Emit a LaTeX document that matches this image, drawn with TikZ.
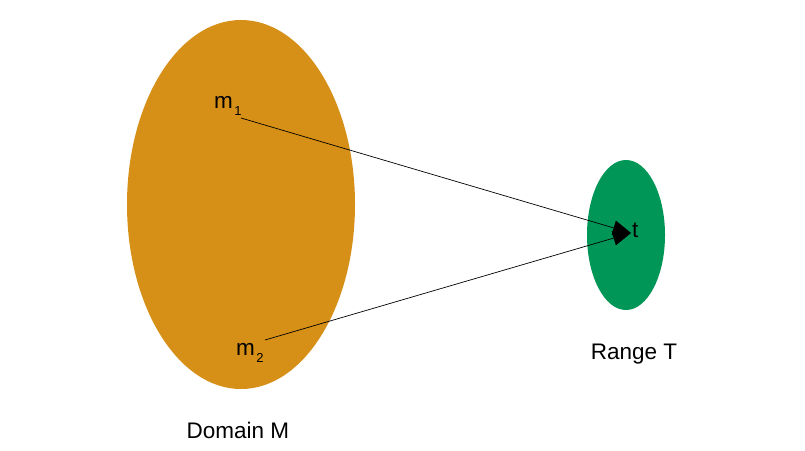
\documentclass[tikz,border=0pt]{standalone}
\usepackage{fontspec}
\setmainfont{Liberation Sans}
\usetikzlibrary{arrows.meta}
\definecolor{domorange}{HTML}{D79017}
\definecolor{rangegreen}{HTML}{009657}
\tikzset{
  lbl/.style={font=\fontsize{22.5}{26}\selectfont, inner sep=0pt},
  sub/.style={font=\fontsize{13}{15}\selectfont, inner sep=0pt},
  maparrow/.style={draw=black, line width=0.7pt, -{Triangle[length=18pt,width=15pt]}}
}
\begin{document}
\begin{tikzpicture}[x=1pt,y=-1pt]
\useasboundingbox (0,0) rectangle (805,450);
\fill[white] (0,0) rectangle (805,450);
\fill[domorange] (241,204.5) ellipse [x radius=114, y radius=184.5];
\fill[rangegreen] (626,235) ellipse [x radius=39, y radius=75];
\node[lbl, anchor=base west] (m1) at (214,108) {m};
\node[sub, anchor=base west] (m1s) at (m1.base east) [xshift=1pt, yshift=-7pt] {1};
\node[lbl, anchor=base west] (m2) at (236,355) {m};
\node[sub, anchor=base west] (m2s) at (m2.base east) [xshift=1pt, yshift=-7pt] {2};
\node[lbl, anchor=base west] (t) at (632,237) {t};
\coordinate (m1e) at (241,118);
\coordinate (m2e) at (265,340);
\coordinate (tip) at (631,233);
\draw[maparrow] (m1e) -- (tip);
\draw[maparrow] (m2e) -- (tip);
\node[lbl, anchor=base] (dom) at (238,438) {Domain M};
\node[lbl, anchor=base] (rng) at (634,359) {Range T};
\end{tikzpicture}
\end{document}
